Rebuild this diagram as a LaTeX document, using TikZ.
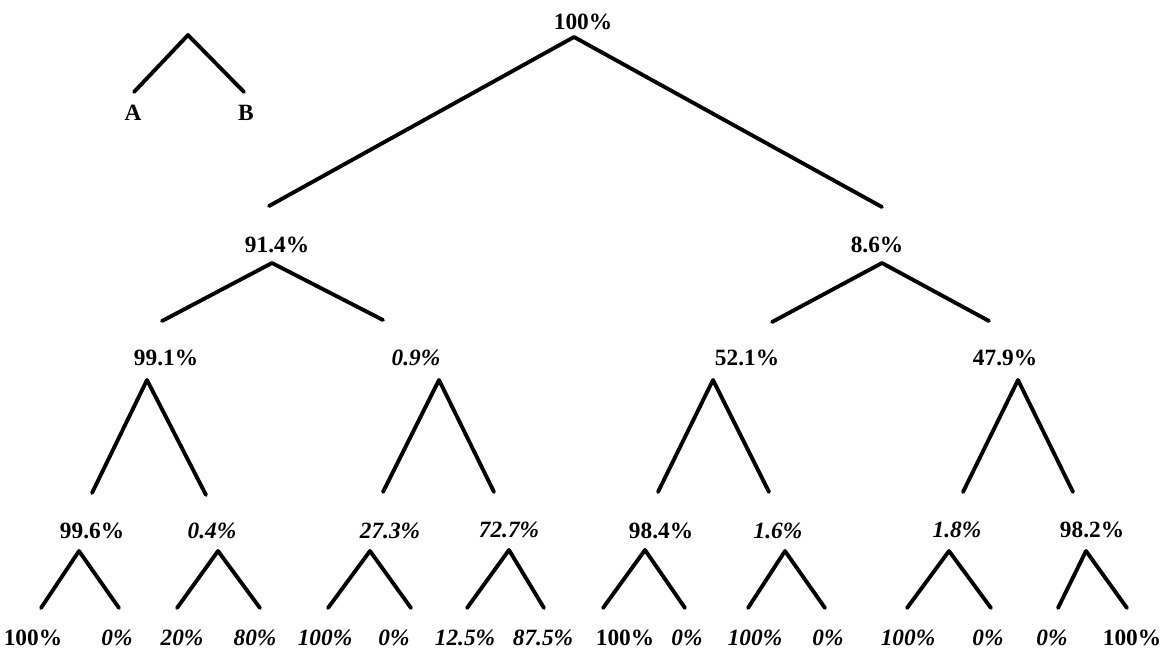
\documentclass[tikz,border=0pt]{standalone}
\usepackage{fontspec}
\setmainfont{Liberation Serif}

\begin{document}
\begin{tikzpicture}[x=0.75pt, y=-0.75pt,
  pct/.style={font=\bfseries\fontsize{17.5}{19}\selectfont, inner sep=1pt},
  pcti/.style={pct, font=\bfseries\itshape\fontsize{17.5}{19}\selectfont},
  legs/.style={line width=2.9pt, line cap=round, line join=round}]
\useasboundingbox (0,0) rectangle (1174,651);

% key
\coordinate (k-t) at (188,35);
\node[pct] (kA) at (133,113) {A}; \coordinate (kA-e) at (134,92);
\node[pct] (kB) at (246,113) {B}; \coordinate (kB-e) at (244,92);
\draw[legs] (kA-e) -- (k-t) -- (kB-e);

% root and first split
\node[pct] (r) at (583,22) {100\%}; \coordinate (r-t) at (574,37);
\node[pct] (a) at (277,245) {91.4\%}; \coordinate (a-t) at (272,263); \coordinate (a-e) at (269,206);
\node[pct] (b) at (877,245) {8.6\%}; \coordinate (b-t) at (882,263); \coordinate (b-e) at (882,207);
\draw[legs] (a-e) -- (r-t) -- (b-e);

% second level
\node[pct] (aa) at (166,358) {99.1\%}; \coordinate (aa-t) at (147,380); \coordinate (aa-e) at (162,321);
\node[pcti] (ab) at (416,358) {0.9\%}; \coordinate (ab-t) at (439,380); \coordinate (ab-e) at (383,320);
\node[pct] (ba) at (747,358) {52.1\%}; \coordinate (ba-t) at (713,380); \coordinate (ba-e) at (772,322);
\node[pct] (bb) at (1005,358) {47.9\%}; \coordinate (bb-t) at (1018,380); \coordinate (bb-e) at (989,321);
\draw[legs] (aa-e) -- (a-t) -- (ab-e);
\draw[legs] (ba-e) -- (b-t) -- (bb-e);

% third level
\node[pct] (aaa) at (92,531) {99.6\%}; \coordinate (aaa-t) at (79,551); \coordinate (aaa-e) at (92,493);
\node[pcti] (aab) at (212,531) {0.4\%}; \coordinate (aab-t) at (218,551); \coordinate (aab-e) at (206,495);
\node[pcti] (aba) at (390,531) {27.3\%}; \coordinate (aba-t) at (370,551); \coordinate (aba-e) at (383,492);
\node[pcti] (abb) at (509,530) {72.7\%}; \coordinate (abb-t) at (509,550); \coordinate (abb-e) at (494,492);
\node[pct] (baa) at (661,531) {98.4\%}; \coordinate (baa-t) at (645,550); \coordinate (baa-e) at (658,492);
\node[pcti] (bab) at (778,531) {1.6\%}; \coordinate (bab-t) at (785,551); \coordinate (bab-e) at (769,492);
\node[pcti] (bba) at (957,530) {1.8\%}; \coordinate (bba-t) at (949,551); \coordinate (bba-e) at (963,492);
\node[pct] (bbb) at (1092,530) {98.2\%}; \coordinate (bbb-t) at (1086,551); \coordinate (bbb-e) at (1073,492);
\draw[legs] (aaa-e) -- (aa-t) -- (aab-e);
\draw[legs] (aba-e) -- (ab-t) -- (abb-e);
\draw[legs] (baa-e) -- (ba-t) -- (bab-e);
\draw[legs] (bba-e) -- (bb-t) -- (bbb-e);

% leaves
\foreach \x/\ex/\t/\f [count=\i] in {33/41/100/, 117/119/0/\itshape, 182/177/20/\itshape, 255/260/80/\itshape,
    325/328/100/\itshape, 394/411/0/\itshape, 465/467/12.5/\itshape, 543/544/87.5/\itshape,
    625/603/100/, 687/685/0/\itshape, 755/748/100/\itshape, 828/825/0/\itshape,
    908/907/100/\itshape, 988/991/0/\itshape, 1052/1058/0/\itshape, 1132/1127/100/}
  {\node[pct] (l\i) at (\x,638) {\f\t\%}; \coordinate (l\i-e) at (\ex,608);}
\draw[legs] (l1-e) -- (aaa-t) -- (l2-e);
\draw[legs] (l3-e) -- (aab-t) -- (l4-e);
\draw[legs] (l5-e) -- (aba-t) -- (l6-e);
\draw[legs] (l7-e) -- (abb-t) -- (l8-e);
\draw[legs] (l9-e) -- (baa-t) -- (l10-e);
\draw[legs] (l11-e) -- (bab-t) -- (l12-e);
\draw[legs] (l13-e) -- (bba-t) -- (l14-e);
\draw[legs] (l15-e) -- (bbb-t) -- (l16-e);
\end{tikzpicture}
\end{document}
